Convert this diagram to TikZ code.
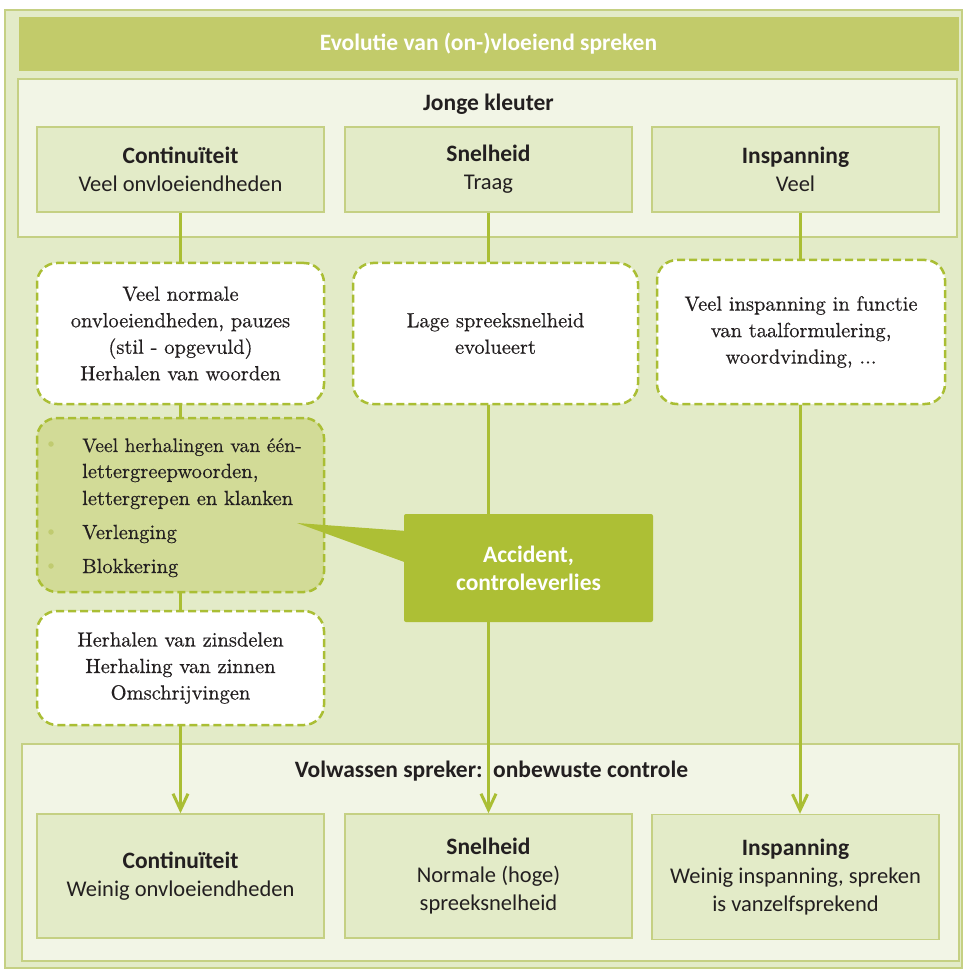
\documentclass[tikz,border=0pt]{standalone}
\usepackage{fontspec}
\newfontface\serifface{lmroman10-regular.otf}[FakeBold=0.5]
\newfontfamily\sansface{Carlito}
\newcommand\hdfont{\sansface\bfseries\fontsize{23.5}{28}\selectfont}
\usetikzlibrary{arrows.meta}
\definecolor{outerfill}{HTML}{E3EBC8}
\definecolor{panelfill}{HTML}{F2F5E6}
\definecolor{boxfill}{HTML}{E3EBC8}
\definecolor{boxborder}{HTML}{C5D083}
\definecolor{titlebar}{HTML}{C2CB6A}
\definecolor{lineC}{HTML}{AABE34}
\definecolor{accent}{HTML}{ADBF35}
\definecolor{greenbox}{HTML}{D2DB97}
\definecolor{bulletc}{HTML}{C0CB70}
\definecolor{textc}{HTML}{231F20}
\begin{document}
\begin{tikzpicture}[x=1pt,y=-1pt,
  every node/.style={text=textc, inner sep=0pt},
  panel/.style={draw=boxborder, line width=1.5pt, fill=panelfill},
  sbox/.style={draw=boxborder, line width=1.5pt, fill=boxfill, align=center,
    font=\sansface\fontsize{22.5}{28}\selectfont},
  dbox/.style={draw=lineC, line width=2.5pt, dash pattern=on 8pt off 4pt,
    rounded corners=20pt, fill=white, align=center,
    font=\serifface\fontsize{20.5}{26.5}\selectfont},
  serif/.style={font=\serifface\fontsize{20.5}{26.5}\selectfont},
  sanstitle/.style={font=\hdfont},
  conn/.style={draw=lineC, line width=3pt},
  arr/.style={conn, -{Straight Barb[length=16pt,width=15pt,line width=3pt]}},
  bul/.style={circle, fill=bulletc, minimum size=5.5pt},
]
\useasboundingbox (0,0) rectangle (967,973);
\fill[white] (0,0) rectangle (967,973);
\node[draw=boxborder, fill=outerfill, line width=1.5pt, minimum width=957pt, minimum height=958pt] (frame) at (483.5,489) {};
\node[fill=titlebar, minimum width=940pt, minimum height=54pt, text=white, sanstitle] (title) at (488.5,44) {Evolutie van (on-)vloeiend spreken};

% Jonge kleuter panel
\node[panel, minimum width=939pt, minimum height=158pt] (jk) at (487.5,158) {};
\node[sanstitle] (jkt) at (488.5,104) {Jonge kleuter};
\node[sbox, minimum width=287pt, minimum height=85pt] (c1) at (180.5,169.5) {{\hdfont Continuïteit}\\ Veel onvloeiendheden};
\node[sbox, minimum width=287pt, minimum height=85pt] (c2) at (488.5,169.5) {{\hdfont Snelheid}\\ Traag};
\node[sbox, minimum width=287pt, minimum height=85pt] (c3) at (795.5,169.5) {{\hdfont Inspanning}\\ Veel};

% dashed boxes
\node[dbox, minimum width=287pt, minimum height=141pt] (d1) at (180.5,333.5) {Veel normale\\ onvloeiendheden, pauzes\\ (stil - opgevuld)\\ Herhalen van woorden};
\node[dbox, minimum width=285pt, minimum height=141pt] (d2) at (495.5,333.5) {Lage spreeksnelheid\\ evolueert};
\node[dbox, minimum width=288pt, minimum height=144pt] (d3) at (801,332) {Veel inspanning in functie\\ van taalformulering,\\ woordvinding, ...};
\node[dbox, fill=greenbox, minimum width=287pt, minimum height=174pt] (g) at (180.5,505) {};
\node[serif, font=\serifface\fontsize{19.6}{26.5}\selectfont, anchor=base west] (g1a) at (82,452) {Veel herhalingen van één-};
\node[serif, anchor=base west] (g1b) at (82,478) {lettergreepwoorden,};
\node[serif, anchor=base west] (g1c) at (82,505) {lettergrepen en klanken};
\node[serif, anchor=base west] (g2) at (82,539) {Verlenging};
\node[serif, anchor=base west] (g3) at (82,573) {Blokkering};
\node[bul] (b1dot) at (51,444) {};
\node[bul] (b2dot) at (51,532) {};
\node[bul] (b3dot) at (51,566) {};
\node[dbox, minimum width=287pt, minimum height=114pt] (h) at (180.5,668) {Herhalen van zinsdelen\\ Herhaling van zinnen\\ Omschrijvingen};

% Accident
\node[fill=accent, rounded corners=2pt, minimum width=249pt, minimum height=108pt, align=center, text=white, sanstitle] (acc) at (528.5,568) {\raisebox{-4pt}{Accident,}\\ \raisebox{-4pt}{controleverlies}};
\coordinate (tip) at (297,523);
\fill[accent] ([yshift=-17pt]acc.north west) -- (tip) -- ([yshift=-48pt]acc.north west) -- cycle;

% Volwassen panel
\node[panel, minimum width=937pt, minimum height=217pt] (vw) at (490.5,852.5) {};
\node[sanstitle] (vwt) at (491.5,771) {Volwassen spreker:\ \ onbewuste controle};
\node[sbox, minimum width=287pt, minimum height=124pt] (e1) at (180.5,876) {{\hdfont Continuïteit}\\ Weinig onvloeiendheden};
\node[sbox, minimum width=287pt, minimum height=124pt] (e2) at (488.5,876) {{\hdfont Snelheid}\\ Normale (hoge)\\ spreeksnelheid};
\node[sbox, minimum width=287pt, minimum height=125pt] (e3) at (795.5,877) {{\hdfont Inspanning}\\ Weinig inspanning, spreken\\ is vanzelfsprekend};

% connectors
\draw[conn] (c1.south) -- (d1.north);
\draw[conn] (d1.south) -- (g.north);
\draw[conn] (g.south) -- (h.north);
\draw[arr] (h.south) -- (e1.north);
\draw[conn] (c2.south) -- (c2.south |- d2.north);
\draw[conn] (c2.south |- d2.south) -- (c2.south |- acc.north);
\draw[arr] (e2.north |- acc.south) -- (e2.north);
\draw[conn] ([xshift=4.5pt]c3.south) -- ([xshift=4.5pt]c3.south |- d3.north);
\draw[arr] ([xshift=4.5pt]e3.north |- d3.south) -- ([xshift=4.5pt]e3.north);
\end{tikzpicture}
\end{document}
